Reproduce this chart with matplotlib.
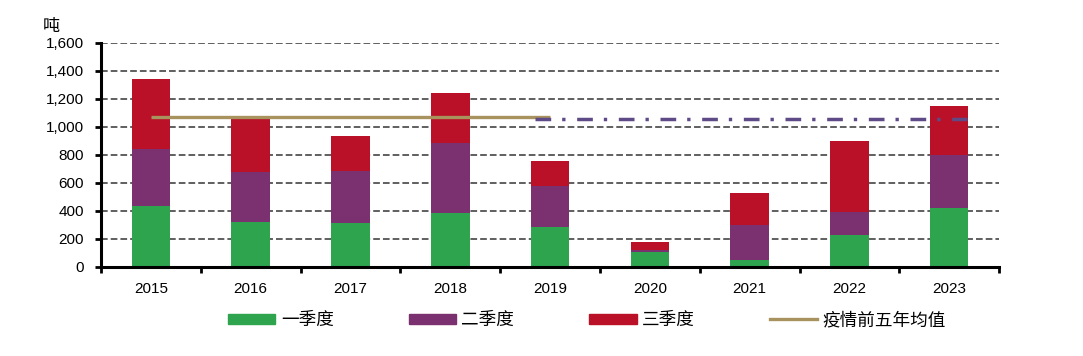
import matplotlib
matplotlib.use("Agg")
import matplotlib.pyplot as plt
from matplotlib.lines import Line2D
from matplotlib.patches import Patch

plt.rcParams['font.family'] = ['Liberation Sans', 'Noto Sans CJK SC', 'DejaVu Sans']
plt.rcParams['lines.scale_dashes'] = False

years = ['2015', '2016', '2017', '2018', '2019', '2020', '2021', '2022', '2023']
q1 = [435, 320, 312, 383, 283, 105, 48, 226, 421]
q2 = [405, 356, 369, 500, 293, 14, 250, 166, 373]
q3 = [500, 384, 252, 357, 179, 57, 228, 507, 351]
series_names = ['一季度', '二季度', '三季度', '疫情前五年均值']
pre_avg = 1070          # solid line value (2015-2019)
pre_avg_ref = 1055      # dash-dot reference line value (2019-2023)

c_q1 = '#2EA44F'
c_q2 = '#7B3170'
c_q3 = '#BA1128'
c_avg = '#A8935E'
c_ref = '#5E4A86'

fig = plt.figure(figsize=(10.83, 3.56), dpi=100)
ax = fig.add_axes([0.0933, 0.2514, 0.8292, 0.6287])

x = list(range(len(years)))
w = 0.387
b2 = [a for a in q1]
b3 = [a + b for a, b in zip(q1, q2)]
ax.bar(x, q1, w, color=c_q1, zorder=3)
ax.bar(x, q2, w, bottom=b2, color=c_q2, zorder=3)
ax.bar(x, q3, w, bottom=b3, color=c_q3, zorder=3)

ax.plot([x[0], x[4]], [pre_avg, pre_avg], color=c_avg, lw=2.4,
        solid_capstyle='butt', zorder=4)
ax.plot([x[4] - 0.15, x[8] + 0.18], [pre_avg_ref, pre_avg_ref], color=c_ref,
        lw=2.5, linestyle=(0, (11.3, 7.9, 2.4, 8.4)), dash_capstyle='butt',
        zorder=4)

ax.set_xlim(-0.5, 8.5)
ax.set_ylim(0, 1600)
ax.set_yticks(range(0, 1601, 200))
ax.set_yticklabels([f'{v:,}' for v in range(0, 1601, 200)], fontsize=11)
ax.set_xticks(x)
ax.set_xticklabels(years, fontsize=11)
ax.set_xticks([i - 0.5 for i in range(10)], minor=True)
ax.tick_params(axis='x', which='major', length=0, pad=11)
ax.tick_params(axis='x', which='minor', length=4.3, width=2.0, direction='out')
ax.tick_params(axis='y', length=4.6, width=2.0, pad=7.5)

ax.grid(axis='y', color='#5F5F5F', linestyle=(0, (4.8, 2.2)), lw=1.4, zorder=1)
for s in ['top', 'right']:
    ax.spines[s].set_visible(False)
for s in ['left', 'bottom']:
    ax.spines[s].set_linewidth(2.2)
    ax.spines[s].set_color('black')
    ax.spines[s].set_zorder(5)
ax.spines['left'].set_capstyle('projecting')

fig.text(0.0394, 0.925, '吨', fontsize=12.3, ha='left', va='center')

handles = [Patch(color=c_q1), Patch(color=c_q2), Patch(color=c_q3),
           Line2D([0], [0], color=c_avg, lw=2.4)]
leg = fig.legend(handles, series_names, loc='center left',
                 bbox_to_anchor=(0.2108, 0.099), ncol=4, frameon=False,
                 fontsize=12.7, handlelength=2.67, handleheight=0.55,
                 handletextpad=0.31, columnspacing=4.26,
                 borderpad=0, borderaxespad=0)

fig.savefig('out.png', dpi=100)
